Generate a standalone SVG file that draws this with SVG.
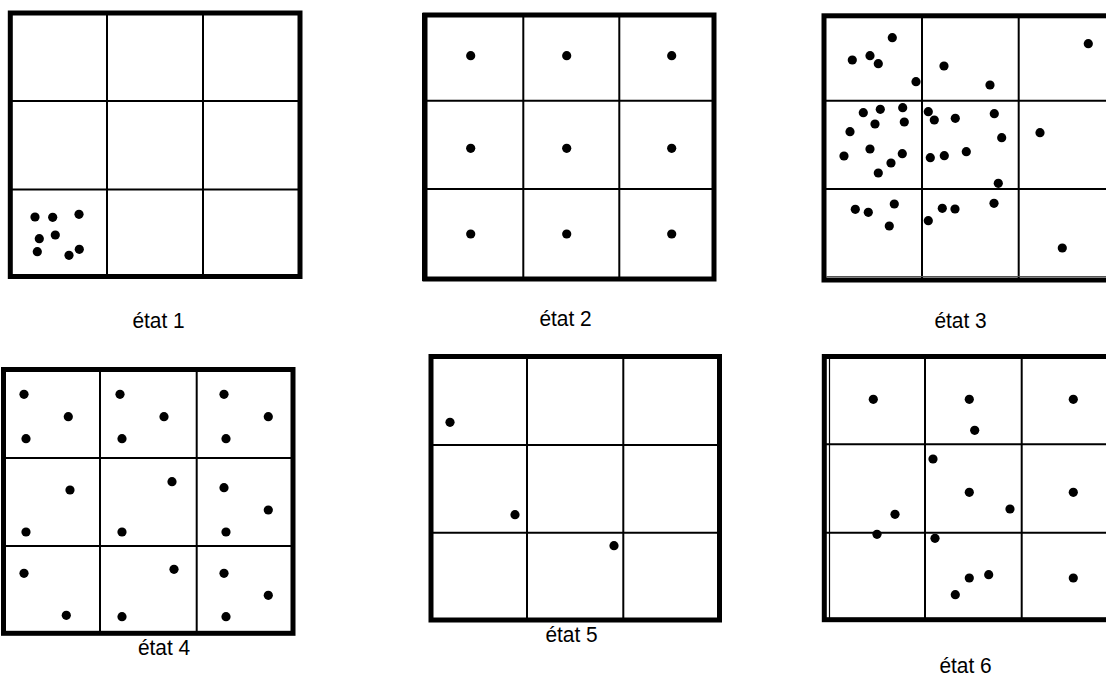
<svg xmlns="http://www.w3.org/2000/svg" width="1106" height="678" viewBox="0 0 1106 678">
<style>
.frame{fill:none;stroke:#000;stroke-width:5}
.grid{stroke:#000;stroke-width:2;fill:none}
.thin{stroke:#555;stroke-width:1;fill:none}
.dot{fill:#000}
.lbl{font-family:"Liberation Sans",Arial,sans-serif;font-size:22px;fill:#000;text-anchor:middle}
</style>
<rect width="1106" height="678" fill="#fff"/>
<defs>
<circle id="d" r="4.6" class="dot"/>
</defs>

<g id="etat1">
<line class="grid" x1="107" y1="13" x2="107" y2="276"/>
<line class="grid" x1="203" y1="13" x2="203" y2="276"/>
<line class="grid" x1="10" y1="101" x2="300" y2="101"/>
<line class="grid" x1="10" y1="189.5" x2="300" y2="189.5"/>
<rect class="frame" x="10.3" y="13" width="289.7" height="263.5"/>
<use href="#d" x="35" y="217"/><use href="#d" x="52.7" y="217.3"/><use href="#d" x="79" y="214.3"/>
<use href="#d" x="39.3" y="238.7"/><use href="#d" x="55.3" y="235"/><use href="#d" x="37.3" y="251.7"/>
<use href="#d" x="69" y="255.3"/><use href="#d" x="79.3" y="249.3"/>
<text class="lbl" transform="translate(158.5,328) scale(0.95,1)">état 1</text>
</g>

<g id="etat2">
<line class="grid" x1="523.3" y1="15" x2="523.3" y2="279"/>
<line class="grid" x1="619.3" y1="15" x2="619.3" y2="279"/>
<line class="grid" x1="425" y1="100.7" x2="714" y2="100.7"/>
<line class="grid" x1="425" y1="189" x2="714" y2="189"/>
<rect class="frame" x="425" y="15" width="289" height="264"/>
<line stroke="#000" stroke-width="2" x1="423" y1="13" x2="423" y2="281"/>
<use href="#d" x="470.7" y="55.7"/><use href="#d" x="566.7" y="55.7"/><use href="#d" x="671.7" y="55.7"/>
<use href="#d" x="470.7" y="148.3"/><use href="#d" x="566.7" y="148.3"/><use href="#d" x="671.7" y="148.3"/>
<use href="#d" x="470.7" y="234"/><use href="#d" x="566.7" y="234"/><use href="#d" x="671.7" y="234"/>
<text class="lbl" transform="translate(565.5,326) scale(0.95,1)">état 2</text>
</g>

<g id="etat3">
<line class="grid" x1="922" y1="15.5" x2="922" y2="280"/>
<line class="grid" x1="1018.7" y1="15.5" x2="1018.7" y2="280"/>
<line class="grid" x1="824" y1="100.7" x2="1110" y2="100.7"/>
<line class="grid" x1="824" y1="189" x2="1110" y2="189"/>
<rect class="frame" x="824" y="15.8" width="295" height="264.2"/>
<line class="thin" x1="826" y1="276.5" x2="1110" y2="276.5"/>
<use href="#d" x="892.3" y="37.7"/><use href="#d" x="852.3" y="60"/><use href="#d" x="870" y="55.7"/>
<use href="#d" x="878.3" y="63.7"/><use href="#d" x="916" y="81.7"/><use href="#d" x="944" y="66"/>
<use href="#d" x="990" y="85"/><use href="#d" x="1088.3" y="43.7"/>
<use href="#d" x="863.3" y="112.7"/><use href="#d" x="880.3" y="109.3"/><use href="#d" x="902.7" y="107.7"/>
<use href="#d" x="875" y="124"/><use href="#d" x="904.3" y="122"/><use href="#d" x="850" y="131.7"/>
<use href="#d" x="870" y="149"/><use href="#d" x="844" y="156"/><use href="#d" x="902.3" y="153.7"/>
<use href="#d" x="891" y="163"/><use href="#d" x="878.3" y="173"/><use href="#d" x="928.3" y="111.7"/>
<use href="#d" x="934.3" y="120"/><use href="#d" x="955.3" y="118.3"/><use href="#d" x="994.3" y="113.7"/>
<use href="#d" x="1001.7" y="137.7"/><use href="#d" x="1040" y="132.7"/><use href="#d" x="930.3" y="157.7"/>
<use href="#d" x="944.3" y="155.7"/><use href="#d" x="966.3" y="151.7"/><use href="#d" x="998.3" y="183.3"/>
<use href="#d" x="855.3" y="209.3"/><use href="#d" x="868.3" y="212.3"/><use href="#d" x="894.3" y="204"/>
<use href="#d" x="889.3" y="226"/><use href="#d" x="928.3" y="220.7"/><use href="#d" x="942.3" y="208.3"/>
<use href="#d" x="955" y="209"/><use href="#d" x="994" y="203.3"/><use href="#d" x="1062.3" y="248"/>
<text class="lbl" transform="translate(960.5,328) scale(0.95,1)">état 3</text>
</g>

<g id="etat4">
<line class="grid" x1="100" y1="369.5" x2="100" y2="633.3"/>
<line class="grid" x1="196.7" y1="369.5" x2="196.7" y2="633.3"/>
<line class="grid" x1="3.5" y1="458" x2="293" y2="458"/>
<line class="grid" x1="3.5" y1="546" x2="293" y2="546"/>
<rect class="frame" x="3.5" y="369.5" width="289.5" height="263.8"/>
<use href="#d" x="24" y="394.3"/><use href="#d" x="68.3" y="416.7"/><use href="#d" x="26" y="438.7"/>
<use href="#d" x="120" y="394.3"/><use href="#d" x="164" y="416.7"/><use href="#d" x="122" y="438.7"/>
<use href="#d" x="224" y="394.3"/><use href="#d" x="268.3" y="416.7"/><use href="#d" x="226" y="438.7"/>
<use href="#d" x="70" y="490"/><use href="#d" x="26" y="532"/><use href="#d" x="172" y="481.7"/>
<use href="#d" x="122" y="532"/><use href="#d" x="224" y="487.7"/><use href="#d" x="268.3" y="510"/>
<use href="#d" x="226" y="532"/>
<use href="#d" x="24" y="573.3"/><use href="#d" x="66.3" y="615.3"/><use href="#d" x="174" y="569.3"/>
<use href="#d" x="122" y="616.7"/><use href="#d" x="224" y="573.3"/><use href="#d" x="268.3" y="595.3"/>
<use href="#d" x="226" y="616.7"/>
<text class="lbl" transform="translate(164,655) scale(0.95,1)">état 4</text>
</g>

<g id="etat5">
<line class="grid" x1="527" y1="356.5" x2="527" y2="620"/>
<line class="grid" x1="623.3" y1="356.5" x2="623.3" y2="620"/>
<line class="grid" x1="431" y1="445" x2="719.5" y2="445"/>
<line class="grid" x1="431" y1="532.7" x2="719.5" y2="532.7"/>
<rect class="frame" x="431" y="356.5" width="288.5" height="263.5"/>
<use href="#d" x="450" y="422.3"/><use href="#d" x="515" y="514.7"/><use href="#d" x="614" y="545.7"/>
<text class="lbl" transform="translate(571.5,642) scale(0.95,1)">état 5</text>
</g>

<g id="etat6">
<line class="grid" x1="925" y1="356.5" x2="925" y2="619.7"/>
<line class="grid" x1="1021.7" y1="356.5" x2="1021.7" y2="619.7"/>
<line class="grid" x1="824.3" y1="444.3" x2="1110" y2="444.3"/>
<line class="grid" x1="824.3" y1="532.7" x2="1110" y2="532.7"/>
<rect class="frame" x="824.3" y="356.5" width="295" height="263.2"/>
<line stroke="#000" stroke-width="1.2" x1="829.5" y1="358" x2="829.5" y2="618"/>
<use href="#d" x="873.3" y="399.3"/><use href="#d" x="969.3" y="399.3"/><use href="#d" x="1073.3" y="399.3"/>
<use href="#d" x="974.7" y="430.3"/><use href="#d" x="933" y="459"/><use href="#d" x="969.3" y="492.3"/>
<use href="#d" x="1073.3" y="492.3"/><use href="#d" x="1010" y="509"/><use href="#d" x="895" y="514.3"/>
<use href="#d" x="877" y="534.3"/><use href="#d" x="935" y="538.3"/><use href="#d" x="969.3" y="578"/>
<use href="#d" x="988.7" y="574.7"/><use href="#d" x="955.3" y="594.7"/><use href="#d" x="1073.3" y="578"/>
<text class="lbl" transform="translate(965.5,673) scale(0.95,1)">état 6</text>
</g>

<g id="connectors"></g>
</svg>
